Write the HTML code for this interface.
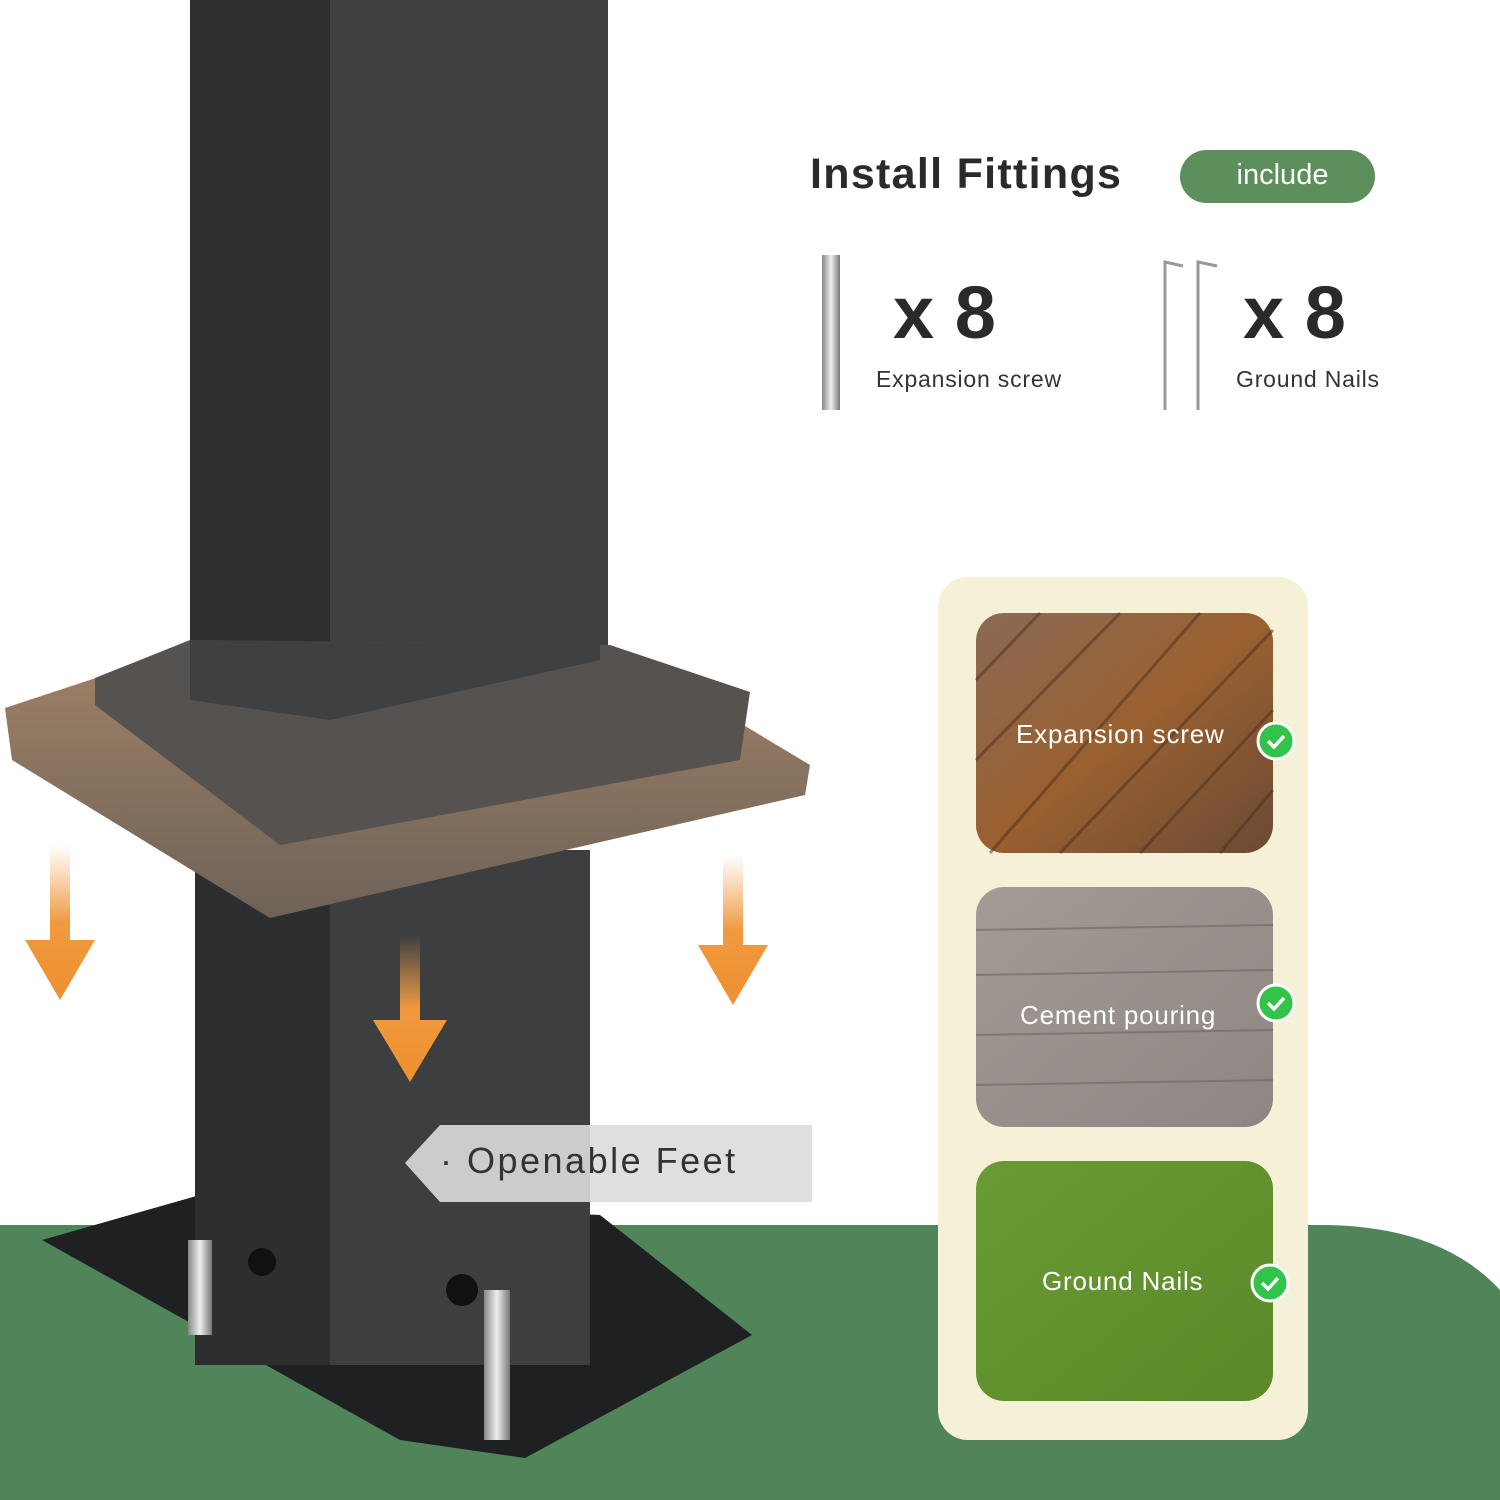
<!DOCTYPE html>
<html><head><meta charset="utf-8"><style>
body{margin:0;width:1500px;height:1500px;overflow:hidden;background:#fff;font-family:"Liberation Sans",sans-serif;position:relative}
.a{position:absolute}
</style></head><body>
<svg class="a" style="left:0;top:0" width="1500" height="1500" viewBox="0 0 1500 1500">
<defs>
<linearGradient id="ar" x1="0" y1="0" x2="0" y2="1"><stop offset="0" stop-color="#f0a050" stop-opacity="0"/><stop offset="0.5" stop-color="#f09a40"/><stop offset="1" stop-color="#ee9030"/></linearGradient>
<linearGradient id="fl" x1="0" y1="0" x2="0" y2="1"><stop offset="0" stop-color="#a08266"/><stop offset="1" stop-color="#6e6258"/></linearGradient>
<linearGradient id="wood" x1="0" y1="0" x2="1" y2="1"><stop offset="0" stop-color="#8a6a55"/><stop offset="0.5" stop-color="#9a6030"/><stop offset="1" stop-color="#6a4a35"/></linearGradient>
<linearGradient id="pave" x1="0" y1="0" x2="1" y2="1"><stop offset="0" stop-color="#a49a96"/><stop offset="1" stop-color="#8e8682"/></linearGradient>
<linearGradient id="grass" x1="0" y1="0" x2="1" y2="1"><stop offset="0" stop-color="#6a9a34"/><stop offset="1" stop-color="#5a8a28"/></linearGradient>
<linearGradient id="bolt" x1="0" y1="0" x2="1" y2="0"><stop offset="0" stop-color="#888"/><stop offset="0.5" stop-color="#eee"/><stop offset="1" stop-color="#777"/></linearGradient>
</defs>
<path d="M0 1225 H1320 Q1440 1225 1500 1290 V1500 H0 Z" fill="#4f8558"/>
<rect x="190" y="0" width="140" height="720" fill="#2d2f31"/>
<rect x="330" y="0" width="278" height="720" fill="#3e4042"/>
<polygon points="42,1240 200,1195 600,1215 752,1335 525,1458 400,1440" fill="#1f2022"/>
<rect x="195" y="850" width="135" height="515" fill="#2c2e30"/>
<rect x="330" y="850" width="260" height="515" fill="#3c3e40"/>
<polygon points="5,708 120,670 610,645 810,765 805,795 270,918 12,760" fill="url(#fl)"/>
<polygon points="95,678 190,640 610,645 750,692 740,760 280,845 95,705" fill="#55524f"/>
<polygon points="190,640 600,645 600,660 330,720 190,700" fill="#3e4042"/>
<g fill="url(#ar)">
<path d="M50 845 H70 V940 H95 L60 1000 L25 940 H50Z"/>
<path d="M400 935 H420 V1020 H447 L410 1082 L373 1020 H400Z"/>
<path d="M723 855 H743 V945 H768 L733 1005 L698 945 H723Z"/>
</g>
<polygon points="405,1163 440,1125 812,1125 812,1202 440,1202" fill="#dcdcdc" opacity="0.9"/>
<circle cx="262" cy="1262" r="14" fill="#111"/><circle cx="462" cy="1290" r="16" fill="#111"/>
<rect x="188" y="1240" width="24" height="95" fill="url(#bolt)"/>
<rect x="484" y="1290" width="26" height="150" fill="url(#bolt)"/>
<rect x="822" y="255" width="18" height="155" fill="url(#bolt)"/>
<path d="M1165 410 V262 L1183 266 M1198 410 V262 L1217 266" stroke="#999" stroke-width="3" fill="none"/>
<rect x="938" y="577" width="370" height="863" rx="30" fill="#f5f1d6"/>
<rect x="976" y="613" width="297" height="240" rx="28" fill="url(#wood)"/>
<g stroke="#4a3020" stroke-width="3" opacity="0.5">
<line x1="976" y1="680" x2="1040" y2="613"/><line x1="976" y1="760" x2="1120" y2="613"/><line x1="990" y1="853" x2="1200" y2="613"/><line x1="1060" y1="853" x2="1273" y2="630"/><line x1="1140" y1="853" x2="1273" y2="710"/><line x1="1220" y1="853" x2="1273" y2="790"/></g>
<rect x="976" y="887" width="297" height="240" rx="28" fill="url(#pave)"/>
<g stroke="#6e6562" stroke-width="2" opacity="0.6"><line x1="976" y1="930" x2="1273" y2="925"/><line x1="976" y1="975" x2="1273" y2="970"/><line x1="976" y1="1035" x2="1273" y2="1030"/><line x1="976" y1="1085" x2="1273" y2="1080"/></g>
<rect x="976" y="1161" width="297" height="240" rx="28" fill="url(#grass)"/>
<g fill="#33c24a" stroke="#fff" stroke-width="3"><circle cx="1276" cy="741" r="18"/><circle cx="1276" cy="1003" r="18"/><circle cx="1270" cy="1283" r="18"/></g>
<g stroke="#fff" stroke-width="3.5" fill="none"><path d="M1268 741 l6 6 l10 -11"/><path d="M1268 1003 l6 6 l10 -11"/><path d="M1262 1283 l6 6 l10 -11"/></g>
<rect x="1180" y="150" width="195" height="53" rx="26.5" fill="#5c8f5c"/>
</svg>
<div class="a" style="left:810px;top:150px;font-size:43px;font-weight:bold;color:#2a2a2a;letter-spacing:1.3px">Install Fittings</div>
<div class="a" style="left:1180px;top:159px;width:205px;text-align:center;font-size:29px;color:#fff">include</div>
<div class="a" style="left:893px;top:270px;font-size:74px;font-weight:bold;color:#2a2a2a">x 8</div>
<div class="a" style="left:1243px;top:270px;font-size:74px;font-weight:bold;color:#2a2a2a">x 8</div>
<div class="a" style="left:876px;top:366px;font-size:23px;color:#333;letter-spacing:0.8px">Expansion screw</div>
<div class="a" style="left:1236px;top:366px;font-size:23px;color:#333;letter-spacing:0.8px">Ground Nails</div>
<div class="a" style="left:440px;top:1140px;font-size:36px;color:#333;letter-spacing:2.5px">· Openable Feet</div>
<div class="a" style="left:1016px;top:719px;font-size:26px;color:#fff;letter-spacing:0.8px">Expansion screw</div>
<div class="a" style="left:1020px;top:1000px;font-size:26px;color:#fff;letter-spacing:0.8px">Cement pouring</div>
<div class="a" style="left:1042px;top:1266px;font-size:26px;color:#fff;letter-spacing:0.8px">Ground Nails</div>
</body></html>
